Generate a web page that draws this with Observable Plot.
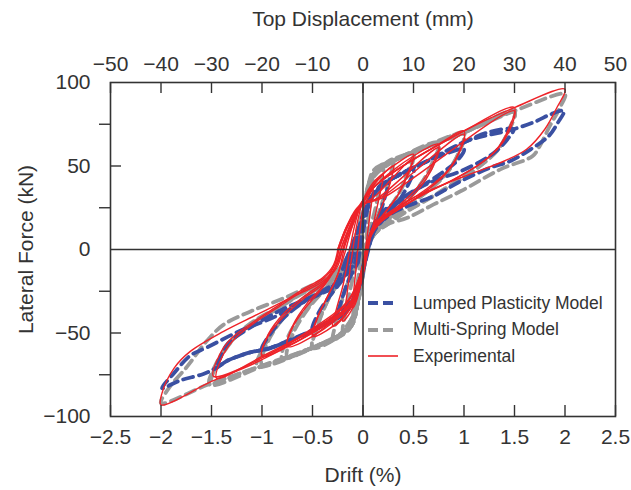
<!DOCTYPE html>
<html><head><meta charset="utf-8">
<script src="https://cdn.jsdelivr.net/npm/d3@7"></script>
<script src="https://cdn.jsdelivr.net/npm/@observablehq/plot@0.6"></script>
<style>
body{margin:0;background:#fff;font-family:"Liberation Sans",Arial,sans-serif;}
#wrap{position:relative;width:631px;height:490px;}
#legend{position:absolute;left:368px;top:290px;font-size:17.5px;color:#333;font-family:"Liberation Sans",Arial,sans-serif;}
#legend .row{display:flex;align-items:center;height:26.5px;white-space:nowrap}
#legend svg{margin-right:15px;flex:none}
</style></head><body><div id="wrap"><div id="chart"></div><div id="legend"></div></div>
<script>
// ---- axis ticks ----
const driftTicks = [-2.5,-2,-1.5,-1,-0.5,0,0.5,1,1.5,2,2.5];
const topTicksMm = [-50,-40,-30,-20,-10,0,10,20,30,40,50];
const forceLabelTicks = [-100,-50,0,50,100];
const forceOuterTicks = [-75,-25,25,75];
const forceInnerTicks = [-50,50];

// ---- series names ----
const seriesNames = ["Lumped Plasticity Model","Multi-Spring Model","Experimental"];

// ---- Experimental: cycles of [drift %, force kN] ----
const experimental = [
 [[-0.06,-5],[-0.03,12],[0,24],[0.05,31],[0.1,36],[0.08,26],[0.05,12],[0.02,-2],[-0.02,-18],[-0.06,-30],[-0.1,-35],[-0.09,-24],[-0.07,-12],[-0.06,-5]],
 [[-0.1,0],[-0.06,15],[-0.01,27],[0.08,37],[0.2,45],[0.17,34],[0.12,20],[0.07,6],[0.02,-10],[-0.05,-27],[-0.12,-37],[-0.2,-43],[-0.17,-32],[-0.14,-18],[-0.12,-8],[-0.1,0]],
 [[-0.13,0],[-0.08,15],[-0.02,27],[0.1,38],[0.3,50],[0.26,38],[0.18,25],[0.1,13],[0.05,2],[0,-14],[-0.08,-30],[-0.18,-40],[-0.3,-46],[-0.26,-35],[-0.2,-22],[-0.16,-10],[-0.13,0]],
 [[-0.17,0],[-0.1,15],[-0.02,27],[0.1,40],[0.3,50],[0.5,57],[0.44,45],[0.35,33],[0.22,22],[0.12,14],[0.05,3],[0,-14],[-0.08,-31],[-0.3,-46],[-0.5,-52],[-0.45,-41],[-0.36,-29],[-0.27,-18],[-0.21,-8],[-0.17,0]],
 [[-0.19,0],[-0.11,15],[-0.02,26],[0.12,32],[0.5,55],[0.44,44],[0.34,32],[0.2,21],[0.1,13],[0.04,2],[-0.01,-14],[-0.1,-29],[-0.22,-38],[-0.5,-51],[-0.44,-39],[-0.34,-27],[-0.25,-15],[-0.21,-6],[-0.19,0]],
 [[-0.2,0],[-0.12,15],[-0.02,26],[0.12,38],[0.5,56],[0.75,63],[0.68,50],[0.55,38],[0.35,26],[0.18,18],[0.08,10],[0.03,0],[-0.01,-14],[-0.1,-32],[-0.5,-52],[-0.75,-58],[-0.7,-47],[-0.57,-35],[-0.4,-23],[-0.28,-12],[-0.2,0]],
 [[-0.22,0],[-0.13,14],[-0.03,26],[0.15,31],[0.75,61],[0.68,48],[0.55,36],[0.36,25],[0.18,17],[0.08,9],[0.03,0],[-0.02,-14],[-0.12,-29],[-0.25,-38],[-0.75,-57],[-0.69,-45],[-0.55,-32],[-0.4,-22],[-0.28,-11],[-0.22,0]],
 [[-0.22,0],[-0.13,14],[-0.02,26],[0.12,38],[0.75,63],[1.0,71],[0.94,57],[0.82,46],[0.6,35],[0.35,25],[0.17,17],[0.07,8],[0.02,-2],[-0.02,-15],[-0.12,-33],[-0.75,-58],[-1.0,-64],[-0.95,-53],[-0.8,-41],[-0.58,-29],[-0.38,-20],[-0.27,-10],[-0.22,0]],
 [[-0.24,0],[-0.15,14],[-0.03,26],[0.2,32],[1.0,69],[0.93,55],[0.8,44],[0.58,33],[0.35,24],[0.17,16],[0.07,7],[0.02,-3],[-0.03,-16],[-0.15,-31],[-0.3,-40],[-1.0,-63],[-0.94,-51],[-0.78,-38],[-0.56,-27],[-0.38,-19],[-0.28,-9],[-0.24,0]],
 [[-0.24,0],[-0.15,14],[-0.03,26],[0.12,38],[1.0,71],[1.5,85],[1.44,72],[1.35,62],[1.2,53],[0.9,42],[0.6,33],[0.35,24],[0.17,17],[0.07,8],[0.02,-3],[-0.03,-16],[-0.15,-34],[-1.0,-64],[-1.45,-77],[-1.4,-65],[-1.28,-54],[-1.1,-45],[-0.85,-35],[-0.6,-25],[-0.4,-18],[-0.28,-9],[-0.24,0]],
 [[-0.25,0],[-0.16,14],[-0.04,26],[0.2,31],[1.5,83],[1.44,70],[1.33,60],[1.15,51],[0.9,42],[0.6,33],[0.35,24],[0.17,17],[0.07,8],[0.02,-3],[-0.04,-17],[-0.2,-34],[-1.48,-76],[-1.42,-63],[-1.3,-53],[-1.1,-44],[-0.85,-34],[-0.6,-24],[-0.4,-17],[-0.29,-9],[-0.25,0]],
 [[-0.25,0],[-0.16,14],[-0.04,26],[0.12,38],[1.0,71],[1.5,85],[2.0,96],[1.92,85],[1.8,72],[1.62,60],[1.4,53],[1.1,46],[0.8,39],[0.5,31],[0.25,22],[0.12,16],[0.05,6],[0,-12],[-0.05,-25],[-0.2,-38],[-1.0,-66],[-1.5,-79],[-2.0,-93],[-1.99,-86],[-1.87,-71],[-1.71,-61],[-1.38,-49],[-1.05,-39],[-0.72,-29],[-0.42,-20],[-0.26,-11],[-0.2,0],[-0.12,12],[-0.03,25]]
];

// ---- Multi-Spring Model ----
const multiSpring = [
 [[-0.03,-8],[0,12],[0.04,30],[0.1,45],[0.08,32],[0.05,18],[0.03,5],[0,-12],[-0.04,-28],[-0.1,-42],[-0.08,-30],[-0.05,-18],[-0.03,-8]],
 [[-0.05,-5],[-0.02,10],[0.02,28],[0.08,42],[0.2,51],[0.17,38],[0.12,24],[0.07,12],[0.03,0],[-0.01,-18],[-0.06,-34],[-0.2,-50],[-0.17,-36],[-0.12,-22],[-0.08,-12],[-0.05,-5]],
 [[-0.07,-3],[-0.03,10],[0.02,27],[0.1,44],[0.3,54],[0.26,42],[0.19,28],[0.12,16],[0.06,6],[0.02,-6],[-0.02,-20],[-0.08,-38],[-0.3,-55],[-0.26,-42],[-0.19,-27],[-0.12,-14],[-0.07,-3]],
 [[-0.1,-2],[-0.05,10],[0.01,25],[0.1,44],[0.37,55],[0.5,58],[0.44,46],[0.35,33],[0.22,21],[0.12,12],[0.06,4],[0.02,-8],[-0.02,-22],[-0.12,-44],[-0.29,-54],[-0.5,-59],[-0.45,-46],[-0.36,-32],[-0.25,-20],[-0.15,-9],[-0.1,-2]],
 [[-0.09,-3],[-0.04,10],[0.01,26],[0.09,44],[0.3,54],[0.5,57],[0.45,46],[0.36,34],[0.23,22],[0.13,13],[0.06,4],[0.01,-9],[-0.03,-24],[-0.11,-43],[-0.3,-54],[-0.5,-58],[-0.46,-47],[-0.37,-33],[-0.26,-21],[-0.15,-9],[-0.09,-3]],
 [[-0.12,-2],[-0.06,10],[0,24],[0.1,43],[0.37,55],[0.75,64],[0.68,51],[0.56,38],[0.4,27],[0.24,18],[0.12,10],[0.05,2],[0,-10],[-0.04,-26],[-0.12,-45],[-0.55,-60],[-0.75,-64],[-0.69,-50],[-0.55,-36],[-0.38,-24],[-0.22,-13],[-0.12,-2]],
 [[-0.13,-2],[-0.05,10],[0.01,24],[0.11,45],[0.4,56],[0.75,63],[0.7,52],[0.57,39],[0.41,28],[0.25,18],[0.12,10],[0.05,2],[0.01,-11],[-0.05,-30],[-0.14,-47],[-0.5,-59],[-0.8,-65],[-0.74,-52],[-0.58,-37],[-0.4,-25],[-0.23,-13],[-0.13,-2]],
 [[-0.14,-3],[-0.06,10],[0,22],[0.1,44],[0.37,55],[0.7,63],[1.0,70],[0.94,57],[0.82,45],[0.62,34],[0.42,25],[0.24,16],[0.11,9],[0.04,1],[0,-12],[-0.06,-34],[-0.12,-46],[-0.55,-60],[-1.0,-69],[-0.94,-55],[-0.8,-42],[-0.6,-30],[-0.4,-21],[-0.24,-12],[-0.14,-3]],
 [[-0.15,-4],[-0.06,9],[0.01,23],[0.12,46],[0.45,57],[1.0,69],[0.95,58],[0.83,46],[0.64,35],[0.43,26],[0.25,17],[0.12,10],[0.05,2],[0.01,-11],[-0.05,-31],[-0.14,-48],[-0.6,-61],[-1.05,-70],[-0.97,-57],[-0.82,-43],[-0.62,-31],[-0.42,-22],[-0.25,-13],[-0.15,-4]],
 [[-0.15,-5],[-0.06,8],[0,22],[0.1,45],[0.37,55],[1.0,70],[1.5,83],[1.44,71],[1.34,60],[1.18,51],[0.97,42],[0.7,32],[0.44,23],[0.24,15],[0.11,9],[0.04,1],[0,-12],[-0.06,-34],[-0.12,-46],[-0.55,-60],[-1.21,-74],[-1.5,-80],[-1.44,-68],[-1.3,-55],[-1.11,-44],[-0.85,-35],[-0.6,-26],[-0.4,-19],[-0.25,-13],[-0.15,-5]],
 [[-0.16,-6],[-0.06,7],[0.01,22],[0.11,46],[0.5,58],[1.0,70],[1.5,82],[1.45,72],[1.35,61],[1.2,52],[0.98,43],[0.72,33],[0.46,24],[0.25,16],[0.12,10],[0.05,2],[0.01,-11],[-0.05,-31],[-0.13,-47],[-0.5,-59],[-1.0,-70],[-1.52,-81],[-1.46,-69],[-1.32,-56],[-1.12,-45],[-0.86,-36],[-0.62,-27],[-0.41,-20],[-0.26,-14],[-0.16,-6]],
 [[-0.16,-7],[-0.06,5],[0,20],[0.04,29],[0.1,47],[0.37,55],[1.0,70],[1.5,83],[2.0,93],[1.95,85],[1.85,74],[1.75,62],[1.68,56],[1.36,48],[0.97,35],[0.7,27],[0.44,19],[0.24,15],[0.11,9],[0.04,1],[0,-12],[-0.06,-34],[-0.12,-46],[-0.29,-54],[-0.55,-60],[-0.88,-67],[-1.21,-74],[-1.54,-81],[-2.0,-92],[-1.91,-82],[-1.74,-70],[-1.55,-55],[-1.38,-45],[-1.11,-37],[-0.78,-29],[-0.49,-21],[-0.29,-15],[-0.16,-7]]
];

// ---- Lumped Plasticity Model ----
const lumped = [
 [[-0.05,-8],[0,10],[0.05,25],[0.12,34],[0.25,40],[0.21,30],[0.15,18],[0.08,6],[0.02,-8],[-0.05,-22],[-0.12,-33],[-0.25,-40],[-0.21,-30],[-0.14,-18],[-0.05,-8]],
 [[-0.08,-8],[-0.02,10],[0.05,27],[0.15,37],[0.3,43],[0.5,48],[0.44,38],[0.34,28],[0.2,19],[0.1,10],[0.03,-3],[-0.05,-22],[-0.15,-36],[-0.32,-42],[-0.5,-48],[-0.44,-38],[-0.33,-28],[-0.2,-18],[-0.08,-8]],
 [[-0.12,-8],[-0.04,10],[0.05,28],[0.2,39],[0.37,45],[0.64,53],[1.0,60],[0.93,53],[0.76,45],[0.56,37],[0.37,29],[0.2,22],[0.1,13],[0.03,-3],[-0.06,-25],[-0.2,-38],[-0.49,-48],[-0.72,-54],[-1.0,-60],[-0.9,-49],[-0.75,-39],[-0.55,-30],[-0.35,-24],[-0.2,-17],[-0.12,-8]],
 [[-0.15,-8],[-0.05,10],[0.05,28],[0.2,39],[0.37,45],[0.64,53],[0.83,59],[1.03,65],[1.23,70],[1.49,72],[1.43,66],[1.32,59],[1.2,54],[0.97,47],[0.7,41],[0.5,35],[0.3,27],[0.2,23],[0.1,14],[0.03,-4],[-0.06,-26],[-0.2,-39],[-0.49,-48],[-0.72,-54.5],[-0.95,-59.5],[-1.11,-61.5],[-1.34,-66.5],[-1.44,-70],[-1.4,-63],[-1.34,-56.5],[-1.11,-46.5],[-0.82,-36.5],[-0.52,-28.6],[-0.35,-23],[-0.2,-17],[-0.15,-8]],
 [[-0.18,-8],[-0.06,10],[0.05,28],[0.2,39],[0.37,45],[0.64,53],[1.03,65],[1.49,72],[1.72,77],[1.86,81],[1.99,83],[1.93,76],[1.84,68],[1.66,60],[1.46,53],[1.26,49],[0.97,41],[0.7,32],[0.44,26],[0.27,21],[0.12,12],[0.04,-2],[-0.06,-26],[-0.32,-42.5],[-0.49,-48.5],[-0.72,-54.5],[-0.95,-59.5],[-1.11,-61.5],[-1.34,-66.5],[-1.44,-70.5],[-1.58,-74.5],[-1.81,-78.4],[-1.99,-83],[-1.87,-74],[-1.71,-63.5],[-1.54,-58.5],[-1.21,-48.5],[-0.88,-40.5],[-0.62,-32.5],[-0.42,-26.5],[-0.29,-22.6],[-0.18,-8]]
];

const rows = (cycles, s) => cycles.flatMap((c, i) => c.map(([x, y]) => ({x, y, cycle: s + "-" + i})));
const fmt = d => (d < 0 ? "\u2212" : "") + Math.abs(d);

const W = 631, H = 490, mL = 110, mR = 16, mT = 82, mB = 74;
const tickPx = 11;
const tickDx = tickPx * 5 / (W - mL - mR);
const tickDy = tickPx * 200 / (H - mT - mB);
const ink = "#333";
const fs = 21;

const colors = {blue: "#3a50a2", gray: "#9a9a9a", red: "#ee2329"};

const chart = Plot.plot({
  width: W, height: H,
  marginLeft: mL, marginRight: mR, marginTop: mT, marginBottom: mB,
  x: {domain: [-2.5, 2.5]},
  y: {domain: [-100, 100]},
  style: {fontFamily: "'Liberation Sans', Arial, sans-serif", color: ink, background: "#fff"},
  marks: [
    Plot.line(rows(multiSpring, "ms"), {x: "x", y: "y", z: "cycle", stroke: colors.gray, strokeWidth: 3.8, strokeDasharray: "10,6", curve: "catmull-rom"}),
    Plot.line(rows(lumped, "lp"), {x: "x", y: "y", z: "cycle", stroke: colors.blue, strokeWidth: 3.8, strokeDasharray: "10,6", curve: "catmull-rom"}),
    Plot.line(rows(experimental, "ex"), {x: "x", y: "y", z: "cycle", stroke: colors.red, strokeWidth: 1.4, curve: "catmull-rom"}),
    Plot.ruleX([0], {stroke: ink, strokeWidth: 1.5}),
    Plot.ruleY([0], {stroke: ink, strokeWidth: 1.5}),
    Plot.frame({stroke: ink, strokeWidth: 1.6}),
    Plot.ruleX(driftTicks, {x: d => d, y1: -100, y2: -100 + tickDy, stroke: ink, strokeWidth: 1.4}),
    Plot.ruleX(topTicksMm, {x: d => d / 20, y1: 100, y2: 100 - tickDy, stroke: ink, strokeWidth: 1.4}),
    Plot.ruleY(forceOuterTicks, {y: d => d, x1: -2.5 - tickDx, x2: -2.5, stroke: ink, strokeWidth: 1.4}),
    Plot.ruleY(forceInnerTicks, {y: d => d, x1: -2.5, x2: -2.5 + tickDx, stroke: ink, strokeWidth: 1.4}),
    Plot.axisX({anchor: "bottom", ticks: driftTicks, tickSize: 0, tickPadding: 13, tickFormat: fmt, fontSize: fs, label: null}),
    Plot.axisX({anchor: "top", ticks: topTicksMm.map(m => m / 20), tickSize: 0, tickPadding: 12, tickFormat: d => fmt(Math.round(d * 20)), fontSize: fs, label: null}),
    Plot.axisY({anchor: "left", ticks: forceLabelTicks, tickSize: 0, tickPadding: 20, tickFormat: fmt, fontSize: fs, label: null}),
    Plot.text(["Drift (%)"], {frameAnchor: "bottom", dy: 59, lineAnchor: "middle", fontSize: fs, fill: ink}),
    Plot.text(["Top Displacement (mm)"], {frameAnchor: "top", dy: -63, lineAnchor: "middle", fontSize: fs, fill: ink}),
    Plot.text(["Lateral Force (kN)"], {frameAnchor: "left", dx: -84, rotate: -90, textAnchor: "middle", lineAnchor: "middle", fontSize: fs, fill: ink})
  ]
});
document.getElementById("chart").appendChild(chart);

// legend
const legendItems = [
  {name: seriesNames[0], color: colors.blue, width: 4, dash: "10,5"},
  {name: seriesNames[1], color: colors.gray, width: 4, dash: "10,5"},
  {name: seriesNames[2], color: colors.red, width: 1.6, dash: null}
];
const lg = document.getElementById("legend");
for (const it of legendItems) {
  const row = document.createElement("div");
  row.className = "row";
  row.innerHTML = `<svg width="30" height="10"><line x1="0" x2="30" y1="5" y2="5" stroke="${it.color}" stroke-width="${it.width}" ${it.dash ? `stroke-dasharray="${it.dash}"` : ""}/></svg><span>${it.name}</span>`;
  lg.appendChild(row);
}
</script></body></html>
